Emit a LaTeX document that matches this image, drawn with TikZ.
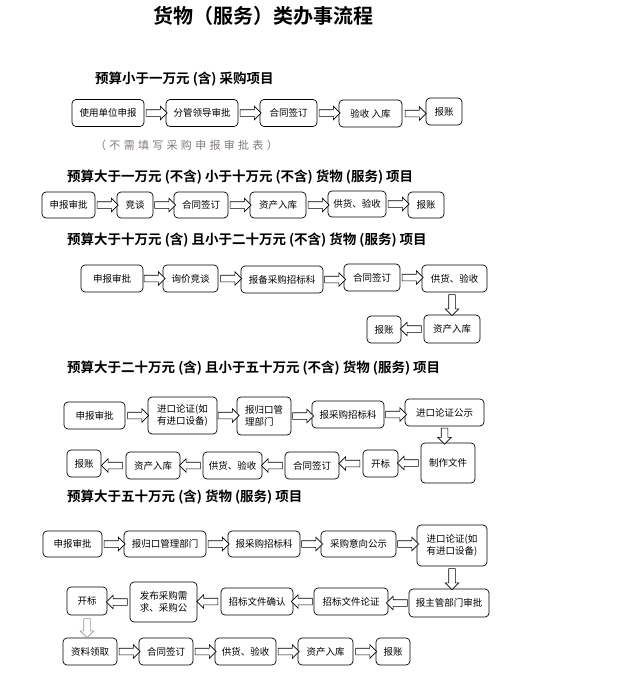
\documentclass[tikz,border=0pt]{standalone}
\usepackage{fontspec}
\setmainfont{Noto Sans CJK SC}[BoldFont={Noto Sans CJK SC Bold}]
\usetikzlibrary{shapes.arrows}
\definecolor{notegray}{RGB}{128,122,118}
\definecolor{fadegray}{RGB}{150,150,150}
\tikzset{
  procbox/.style 2 args={draw, rounded corners=4pt, line width=0.7pt, minimum width=#1, minimum height=#2,
    inner sep=1pt, align=center, font=\fontsize{9.5}{11.5}\selectfont},
  heading/.style={anchor=west, inner sep=0pt, font=\fontsize{13.5}{15}\selectfont\bfseries},
  flowhead/.style={},
  flowarrow/.style={to path={(\tikztostart) -- (\tikztotarget)
    node[midway, sloped, allow upside down, single arrow, draw, fill=white, line width=0.6pt,
      inner xsep=0pt, inner ysep=3pt, single arrow head extend=3.5pt, minimum height=#1, flowhead] {}}},
  flowarrow/.default=21pt
}

\begin{document}
\begin{tikzpicture}[x=1pt, y=-1pt]
\useasboundingbox (0,0) rectangle (627,680);

\node (title) at (263,16) {\fontsize{20}{24}\selectfont\bfseries 货物（服务）类办事流程};

% 一万元以下
\node[heading] (h1) at (95,79) {预算小于一万元 (含) 采购项目};
\node[procbox={72pt}{27pt}] (a1) at (108,113) {使用单位申报};
\node[procbox={72pt}{27pt}] (a2) at (202,113) {分管领导审批};
\node[procbox={57pt}{27pt}] (a3) at (288.5,113) {合同签订};
\node[procbox={63pt}{27pt}] (a4) at (370.5,113.5) {验收\ 入库};
\node[procbox={36pt}{27pt}] (a5) at (444,111.5) {报账};
\node[text=notegray, font=\fontsize{11}{13}\selectfont\addfontfeatures{LetterSpace=30}] (n1) at (186.5,145) {（不需填写采购申报审批表）};
\path[flowarrow] (a1.east) to (a1.east -| a2.west);
\path[flowarrow] (a2.east) to (a2.east -| a3.west);
\path[flowarrow] (a3.east) to (a3.east -| a4.west);
\path[flowarrow] (a4.east) to (a4.east -| a5.west);

% 一万元至十万元
\node[heading] (h2) at (67,177) {预算大于一万元 (不含) 小于十万元 (不含) 货物 (服务) 项目};
\node[procbox={53pt}{26pt}] (b1) at (68.5,205) {申报审批};
\node[procbox={36pt}{26pt}] (b2) at (135,205) {竞谈};
\node[procbox={54pt}{26pt}] (b3) at (201,205) {合同签订};
\node[procbox={56pt}{26pt}] (b4) at (278,205) {资产入库};
\node[procbox={58pt}{26pt}] (b5) at (357,204) {供货、验收};
\node[procbox={36pt}{26pt}] (b6) at (426,205) {报账};
\path[flowarrow] (b1.east) to (b1.east -| b2.west);
\path[flowarrow] (b2.east) to (b2.east -| b3.west);
\path[flowarrow] (b3.east) to (b3.east -| b4.west);
\path[flowarrow] (b4.east) to (b4.east -| b5.west);
\path[flowarrow] (b5.east) to (b5.east -| b6.west);

% 十万元至二十万元
\node[heading] (h3) at (67,240) {预算大于十万元 (含) 且小于二十万元 (不含) 货物 (服务) 项目};
\node[procbox={62pt}{27pt}] (c1) at (112,278.5) {申报审批};
\node[procbox={55pt}{27pt}] (c2) at (190.5,278.5) {询价竞谈};
\node[procbox={82pt}{27pt}] (c3) at (282,279.5) {报备采购招标科};
\node[procbox={56pt}{27pt}] (c4) at (372,277.5) {合同签订};
\node[procbox={65pt}{27pt}] (c5) at (454.5,278.5) {供货、验收};
\node[procbox={56pt}{28pt}] (c6) at (452,329) {资产入库};
\node[procbox={34pt}{27pt}] (c7) at (384,329.5) {报账};
\path[flowarrow] (c1.east) to (c1.east -| c2.west);
\path[flowarrow] (c2.east) to (c2.east -| c3.west);
\path[flowarrow] (c3.east) to (c3.east -| c4.west);
\path[flowarrow] (c4.east) to (c4.east -| c5.west);
\path[flowarrow] (c6 |- c5.south) to (c6.north);
\path[flowarrow] (c6.west) to (c6.west -| c7.east);

% 二十万元至五十万元
\node[heading] (h4) at (67,368) {预算大于二十万元 (含) 且小于五十万元 (不含) 货物 (服务) 项目};
\node[procbox={61pt}{27pt}] (d1) at (94.5,415.5) {申报审批};
\node[procbox={69pt}{37pt}, align=left] (d2) at (182.5,415.5) {进口论证(如\\有进口设备)};
\node[procbox={54pt}{38pt}, align=left] (d3) at (264,416) {报归口管\\理部门};
\node[procbox={72pt}{27pt}] (d4) at (348,414.5) {报采购招标科};
\node[procbox={79pt}{27pt}] (d5) at (444.5,412.5) {进口论证公示};
\node[procbox={54pt}{40pt}] (d6) at (448,463) {制作文件};
\node[procbox={35pt}{27pt}] (d7) at (380.5,463.5) {开标};
\node[procbox={54pt}{27pt}] (d8) at (312,465.5) {合同签订};
\node[procbox={59pt}{27pt}] (d9) at (232.5,465.5) {供货、验收};
\node[procbox={54pt}{27pt}] (d10) at (153,465.5) {资产入库};
\node[procbox={34pt}{27pt}] (d11) at (84,463.5) {报账};
\path[flowarrow] (d1.east) to (d1.east -| d2.west);
\path[flowarrow] (d2.east) to (d2.east -| d3.west);
\path[flowarrow] (d3.east) to (d3.east -| d4.west);
\path[flowarrow] (d4.east) to (d4.east -| d5.west);
\path[flowarrow=16pt] (d5.south) to (d5.south |- d6.north);
\path[flowarrow] (d6.west) to (d6.west -| d7.east);
\path[flowarrow] (d7.west) to (d7.west -| d8.east);
\path[flowarrow] (d8.west) to (d8.west -| d9.east);
\path[flowarrow] (d9.west) to (d9.west -| d10.east);
\path[flowarrow] (d10.west) to (d10.west -| d11.east);

% 五十万元以上
\node[heading] (h5) at (67,497) {预算大于五十万元 (含) 货物 (服务) 项目};
\node[procbox={59pt}{26pt}] (e1) at (72.5,544) {申报审批};
\node[procbox={82pt}{26pt}] (e2) at (165,544) {报归口管理部门};
\node[procbox={72pt}{26pt}] (e3) at (264,544) {报采购招标科};
\node[procbox={75pt}{26pt}] (e4) at (358.5,544) {采购意向公示};
\node[procbox={70pt}{41pt}] (e5) at (452,545.5) {进口论证(如\\有进口设备)};
\node[procbox={80pt}{28pt}] (e6) at (449,603) {报主管部门审批};
\node[procbox={74pt}{27pt}] (e7) at (351,601.5) {招标文件论证};
\node[procbox={72pt}{27pt}] (e8) at (257,601.5) {招标文件确认};
\node[procbox={67pt}{40pt}] (e9) at (163.5,602) {发布采购需\\求、采购公};
\node[procbox={40pt}{28pt}] (e10) at (87,601) {开标};
\node[procbox={54pt}{27pt}] (e11) at (90,651.5) {资料领取};
\node[procbox={54pt}{27pt}] (e12) at (166,651.5) {合同签订};
\node[procbox={61pt}{27pt}] (e13) at (245.5,651.5) {供货、验收};
\node[procbox={55pt}{27pt}] (e14) at (325.5,651.5) {资产入库};
\node[procbox={34pt}{27pt}] (e15) at (393,651.5) {报账};
\path[flowarrow] (e1.east) to (e1.east -| e2.west);
\path[flowarrow] (e2.east) to (e2.east -| e3.west);
\path[flowarrow] (e3.east) to (e3.east -| e4.west);
\path[flowarrow] (e4.east) to (e4.east -| e5.west);
\path[flowarrow] (e5.south) to (e5.south |- e6.north);
\path[flowarrow] (e6.west) to (e6.west -| e7.east);
\path[flowarrow] (e7.west) to (e7.west -| e8.east);
\path[flowarrow] (e8.west) to (e8.west -| e9.east);
\path[flowarrow] (e9.west) to (e9.west -| e10.east);
\path[flowarrow=19pt, flowhead/.style={draw=fadegray}] (e10.south) to (e10.south |- e11.north);
\path[flowarrow] (e11.east) to (e11.east -| e12.west);
\path[flowarrow] (e12.east) to (e12.east -| e13.west);
\path[flowarrow] (e13.east) to (e13.east -| e14.west);
\path[flowarrow] (e14.east) to (e14.east -| e15.west);
\end{tikzpicture}
\end{document}
